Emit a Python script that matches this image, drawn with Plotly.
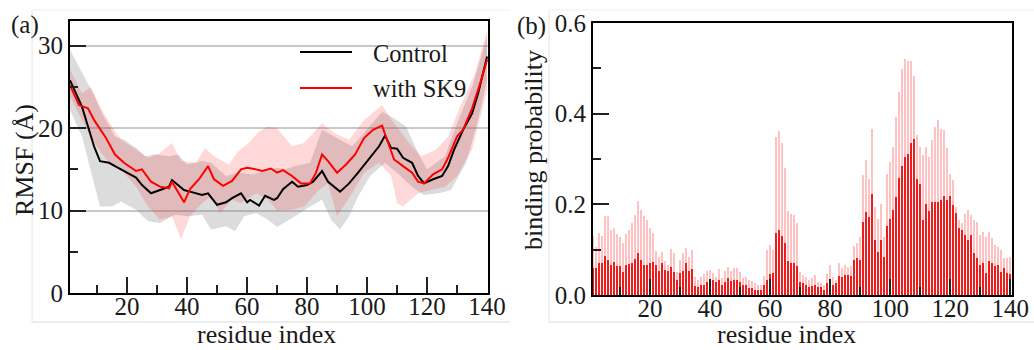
import plotly.graph_objects as go

# ---------------- data: panel (a) RMSF ----------------
ctrl_x = [1, 5, 7, 9, 11, 14, 16, 19, 23, 25, 28, 31, 34, 35, 39, 41, 45, 47, 50, 53, 55, 58, 60, 61,
          64, 66, 69, 70, 72, 75, 77, 80, 82, 85, 87, 91, 94, 97, 100, 104, 106, 108, 110, 112, 115,
          117, 119, 122, 125, 127, 129, 132, 135, 137, 140]
ctrl_y = [25.8, 22.6, 20.2, 17.8, 16.0, 15.8, 15.4, 14.8, 14.0, 13.1, 12.1, 12.5, 12.9, 13.7, 12.5,
          12.3, 11.9, 12.1, 10.7, 11.0, 11.5, 12.1, 11.0, 11.3, 10.6, 11.8, 11.3, 11.5, 12.6, 13.5,
          12.9, 13.1, 13.5, 14.8, 13.5, 12.3, 13.3, 14.6, 16.0, 17.8, 19.1, 17.6, 17.5, 16.4, 15.8,
          14.2, 13.3, 13.8, 14.2, 15.4, 17.4, 19.8, 21.8, 24.2, 28.7]

sk9_x = [1, 4, 7, 9, 13, 16, 19, 23, 25, 28, 31, 34, 35, 39, 41, 44, 47, 49, 52, 55, 58, 60, 63, 65,
         68, 70, 72, 75, 78, 81, 83, 85, 87, 90, 93, 96, 99, 102, 105, 107, 109, 112, 115, 117, 119,
         122, 125, 127, 130, 132, 135, 138, 140]
sk9_y = [25.2, 22.8, 22.4, 21.0, 18.8, 16.8, 15.8, 14.8, 15.0, 13.5, 12.9, 12.7, 13.5, 11.0, 12.6,
         13.8, 15.4, 13.8, 13.0, 13.6, 15.0, 15.2, 15.0, 14.8, 15.1, 14.6, 14.9, 14.2, 13.3, 13.3,
         14.6, 16.8, 16.0, 14.6, 15.6, 16.8, 18.8, 19.8, 20.3, 18.2, 16.2, 15.4, 14.6, 13.5, 13.3,
         14.4, 15.0, 16.4, 19.0, 19.8, 22.4, 25.8, 28.3]

ctrl_hi_x = [1, 5, 9, 12, 16, 19, 23, 26, 29, 34, 37, 40, 45, 48, 53, 57, 62, 66, 70, 73, 76, 81, 85,
             89, 95, 99, 105, 109, 113, 117, 120, 126, 130, 135, 140]
ctrl_hi_y = [29.5, 26.7, 24.0, 21.6, 19.0, 18.6, 17.6, 16.6, 16.8, 16.6, 16.8, 15.6, 16.0, 15.8, 14.2,
             14.6, 14.4, 14.8, 15.2, 15.0, 15.4, 15.8, 19.8, 19.0, 17.8, 19.4, 22.0, 21.2, 20.2, 17.0,
             15.0, 16.6, 20.6, 25.0, 31.1]
ctrl_lo_x = [1, 5, 8, 11, 15, 18, 23, 27, 31, 36, 40, 45, 48, 53, 56, 59, 63, 67, 70, 76, 81, 85, 88,
             91, 94, 97, 101, 106, 110, 115, 119, 124, 128, 133, 137, 140]
ctrl_lo_y = [22.2, 19.0, 14.6, 10.5, 10.5, 11.1, 10.1, 8.7, 8.5, 9.5, 9.3, 9.5, 7.7, 8.1, 7.5, 9.3,
             9.7, 8.9, 8.0, 9.3, 10.5, 11.3, 8.9, 7.7, 9.3, 11.7, 14.2, 15.8, 14.6, 12.9, 11.9, 12.1,
             12.5, 15.8, 21.0, 25.8]

sk9_hi_x = [1, 5, 8, 11, 15, 18, 23, 27, 31, 35, 38, 43, 46, 49, 54, 57, 60, 64, 67, 70, 75, 79, 85,
            89, 94, 99, 105, 109, 114, 118, 123, 127, 131, 136, 140]
sk9_hi_y = [27.1, 24.2, 25.0, 22.6, 20.2, 18.6, 17.4, 16.4, 17.0, 18.2, 16.0, 15.8, 17.6, 16.6, 15.6,
            17.2, 18.0, 19.6, 20.2, 20.0, 17.8, 18.2, 20.6, 19.4, 18.6, 21.0, 22.8, 20.6, 18.2, 16.6,
            17.4, 19.0, 22.6, 26.7, 31.9]
sk9_lo_x = [1, 5, 9, 14, 17, 23, 27, 31, 35, 38, 41, 45, 48, 51, 55, 58, 63, 67, 70, 75, 79, 84, 87,
            90, 95, 99, 104, 108, 110, 112, 117, 121, 126, 130, 135, 140]
sk9_lo_y = [23.8, 21.0, 18.2, 15.8, 15.4, 12.9, 10.5, 8.9, 9.3, 6.5, 9.3, 10.9, 11.7, 9.7, 11.3, 10.9,
            12.1, 11.3, 10.0, 10.1, 10.5, 12.5, 13.3, 9.3, 12.1, 14.6, 15.8, 14.2, 10.9, 10.5, 12.1,
            12.5, 12.9, 14.2, 17.4, 24.6]

# ---------------- data: panel (b) binding probability ----------------
residues = list(range(1, 141))
prob_light = [0.130, 0.106, 0.136, 0.130, 0.174, 0.174, 0.143, 0.147, 0.134, 0.127,
              0.115, 0.134, 0.144, 0.159, 0.176, 0.207, 0.187, 0.174, 0.165, 0.147,
              0.137, 0.097, 0.084, 0.095, 0.075, 0.066, 0.101, 0.092, 0.051, 0.078,
              0.092, 0.104, 0.084, 0.099, 0.040, 0.034, 0.040, 0.046, 0.053, 0.056,
              0.048, 0.040, 0.057, 0.037, 0.053, 0.062, 0.053, 0.059, 0.060, 0.051,
              0.038, 0.040, 0.033, 0.031, 0.026, 0.023, 0.022, 0.042, 0.099, 0.110,
              0.100, 0.348, 0.361, 0.335, 0.280, 0.185, 0.179, 0.176, 0.159, 0.050,
              0.044, 0.040, 0.033, 0.037, 0.044, 0.029, 0.026, 0.022, 0.046, 0.066,
              0.040, 0.033, 0.070, 0.059, 0.066, 0.062, 0.064, 0.108, 0.114, 0.128,
              0.264, 0.297, 0.256, 0.366, 0.194, 0.168, 0.200, 0.128, 0.267, 0.293,
              0.326, 0.392, 0.447, 0.498, 0.520, 0.516, 0.516, 0.484, 0.352, 0.326,
              0.308, 0.326, 0.304, 0.341, 0.371, 0.385, 0.366, 0.363, 0.324, 0.267,
              0.253, 0.194, 0.165, 0.158, 0.179, 0.187, 0.177, 0.165, 0.161, 0.132,
              0.139, 0.128, 0.139, 0.125, 0.110, 0.106, 0.100, 0.081, 0.081, 0.084]
prob_dark = [0.060, 0.059, 0.071, 0.071, 0.086, 0.078, 0.067, 0.072, 0.064, 0.064,
             0.051, 0.067, 0.068, 0.070, 0.080, 0.092, 0.078, 0.067, 0.067, 0.071,
             0.073, 0.066, 0.053, 0.070, 0.055, 0.053, 0.062, 0.051, 0.034, 0.048,
             0.053, 0.070, 0.053, 0.058, 0.020, 0.018, 0.022, 0.022, 0.029, 0.034,
             0.033, 0.029, 0.034, 0.022, 0.029, 0.037, 0.030, 0.032, 0.034, 0.028,
             0.022, 0.021, 0.016, 0.015, 0.012, 0.012, 0.012, 0.022, 0.034, 0.046,
             0.049, 0.137, 0.144, 0.130, 0.115, 0.075, 0.071, 0.071, 0.064, 0.029,
             0.026, 0.022, 0.018, 0.020, 0.022, 0.017, 0.018, 0.012, 0.026, 0.034,
             0.022, 0.026, 0.042, 0.040, 0.045, 0.044, 0.042, 0.077, 0.081, 0.078,
             0.161, 0.182, 0.171, 0.222, 0.121, 0.095, 0.122, 0.084, 0.152, 0.168,
             0.187, 0.216, 0.258, 0.284, 0.304, 0.311, 0.335, 0.344, 0.256, 0.245,
             0.166, 0.201, 0.185, 0.205, 0.205, 0.205, 0.209, 0.218, 0.209, 0.218,
             0.198, 0.181, 0.147, 0.143, 0.133, 0.121, 0.132, 0.093, 0.081, 0.066,
             0.070, 0.049, 0.075, 0.070, 0.064, 0.066, 0.051, 0.059, 0.048, 0.046]

x_ticks = [20, 40, 60, 80, 100, 120, 140]

W, H = 1034, 350
FONT = "Liberation Serif"
TXT = "#1a1a1a"


def px(x):
    return x / W


def py(y):
    return 1 - y / H


fig = go.Figure()

# bands (panel a)
fig.add_trace(go.Scatter(x=ctrl_hi_x + ctrl_lo_x[::-1], y=ctrl_hi_y + ctrl_lo_y[::-1],
                         fill="toself", fillcolor="rgba(128,128,128,0.28)", line=dict(width=0),
                         mode="lines", hoverinfo="skip", showlegend=False, xaxis="x", yaxis="y"))
fig.add_trace(go.Scatter(x=sk9_hi_x + sk9_lo_x[::-1], y=sk9_hi_y + sk9_lo_y[::-1],
                         fill="toself", fillcolor="rgba(255,0,0,0.15)", line=dict(width=0),
                         mode="lines", hoverinfo="skip", showlegend=False, xaxis="x", yaxis="y"))
# lines
fig.add_trace(go.Scatter(x=ctrl_x, y=ctrl_y, mode="lines", name="Control",
                         line=dict(color="black", width=2), showlegend=False, xaxis="x", yaxis="y"))
fig.add_trace(go.Scatter(x=sk9_x, y=sk9_y, mode="lines", name="with SK9",
                         line=dict(color="#ff0000", width=2), showlegend=False, xaxis="x", yaxis="y"))

# bars (panel b)
fig.add_trace(go.Bar(x=residues, y=prob_light, width=0.65, marker=dict(color="#ffc2c2", line=dict(width=0)),
                     showlegend=False, xaxis="x2", yaxis="y2"))
fig.add_trace(go.Bar(x=residues, y=prob_dark, width=0.65, marker=dict(color="#f01c1c", line=dict(width=0)),
                     showlegend=False, xaxis="x2", yaxis="y2"))

tickfont = dict(family=FONT, size=25, color=TXT)
common = dict(showline=True, linecolor="black", linewidth=2, mirror=True, ticks="inside",
              ticklen=16, tickwidth=2, tickcolor="#222", tickfont=tickfont, zeroline=False,
              automargin=False)
minor_x = dict(dtick=10, tick0=0, ticks="inside", ticklen=8, tickwidth=2, tickcolor="#222", showgrid=False)

fig.update_layout(
    width=W, height=H, margin=dict(l=0, r=0, t=0, b=0),
    paper_bgcolor="white", plot_bgcolor="white", barmode="overlay", bargap=0,
    showlegend=False, font=dict(family=FONT, color=TXT),
    xaxis=dict(domain=[px(70), px(488)], range=[1, 140.3], anchor="y", tickvals=x_ticks,
               showgrid=False, ticklabelstandoff=-10, minor=minor_x, **common),
    yaxis=dict(domain=[py(293), py(21)], range=[0, 33], anchor="x", tickvals=[0, 10, 20, 30],
               showgrid=True, gridcolor="#c8c8c8", gridwidth=1.5,
               minor=dict(dtick=5, tick0=0, ticks="inside", ticklen=8, tickwidth=2, tickcolor="#222",
                          showgrid=False), **common),
    xaxis2=dict(domain=[px(593), px(1012)], range=[1, 140.6], anchor="y2", tickvals=x_ticks,
                showgrid=False, ticklabelstandoff=-10, minor=minor_x, **common),
    yaxis2=dict(domain=[py(295), py(23)], range=[0, 0.6], anchor="x2", tickvals=[0, 0.2, 0.4, 0.6],
                tickformat=".1f", showgrid=False,
                minor=dict(dtick=0.1, tick0=0, ticks="inside", ticklen=8, tickwidth=2, tickcolor="#222",
                           showgrid=False), **common),
)

ann = []
titlefont = dict(family=FONT, size=26, color=TXT)
ann.append(dict(text="RMSF (Å)", x=px(25), y=py(160), textangle=-90, font=dict(family=FONT, size=26, color=TXT)))
ann.append(dict(text="residue index", x=px(266), y=py(334), font=titlefont))
ann.append(dict(text="binding probability", x=px(533), y=py(150), textangle=-90,
                font=dict(family=FONT, size=26, color=TXT)))
ann.append(dict(text="residue index", x=px(786), y=py(334), font=titlefont))
ann.append(dict(text="(a)", x=px(25), y=py(25), font=dict(family=FONT, size=25, color=TXT)))
ann.append(dict(text="(b)", x=px(531), y=py(26), font=dict(family=FONT, size=25, color=TXT)))
# legend text
ann.append(dict(text="Control", x=px(371), y=py(53), xanchor="left", font=dict(family=FONT, size=24.5, color=TXT)))
ann.append(dict(text="with SK9", x=px(371), y=py(88), xanchor="left", font=dict(family=FONT, size=24.5, color=TXT)))
for a in ann:
    a.update(xref="paper", yref="paper", showarrow=False)
    a.setdefault("xanchor", "center")
    a.setdefault("yanchor", "middle")
fig.update_layout(annotations=ann)

shapes = [
    # legend samples
    dict(type="line", xref="paper", yref="paper", x0=px(300), x1=px(352), y0=py(52), y1=py(52),
         line=dict(color="black", width=2)),
    dict(type="line", xref="paper", yref="paper", x0=px(300), x1=px(352), y0=py(88), y1=py(88),
         line=dict(color="#ff0000", width=2)),
    # faint outer frames
    dict(type="line", xref="paper", yref="paper", x0=px(32), x1=px(32), y0=py(10), y1=py(322),
         line=dict(color="#e4e4e4", width=1)),
    dict(type="line", xref="paper", yref="paper", x0=px(32), x1=px(510), y0=py(10), y1=py(10),
         line=dict(color="#f0f0f0", width=1)),
    dict(type="line", xref="paper", yref="paper", x0=px(32), x1=px(510), y0=py(322), y1=py(322),
         line=dict(color="#dcdcdc", width=1)),
    dict(type="line", xref="paper", yref="paper", x0=px(549), x1=px(549), y0=py(10), y1=py(322),
         line=dict(color="#e4e4e4", width=1)),
    dict(type="line", xref="paper", yref="paper", x0=px(549), x1=px(1034), y0=py(10), y1=py(10),
         line=dict(color="#f0f0f0", width=1)),
    dict(type="line", xref="paper", yref="paper", x0=px(549), x1=px(1034), y0=py(322), y1=py(322),
         line=dict(color="#dcdcdc", width=1)),
]
fig.update_layout(shapes=shapes)

fig.write_html("out.html")
